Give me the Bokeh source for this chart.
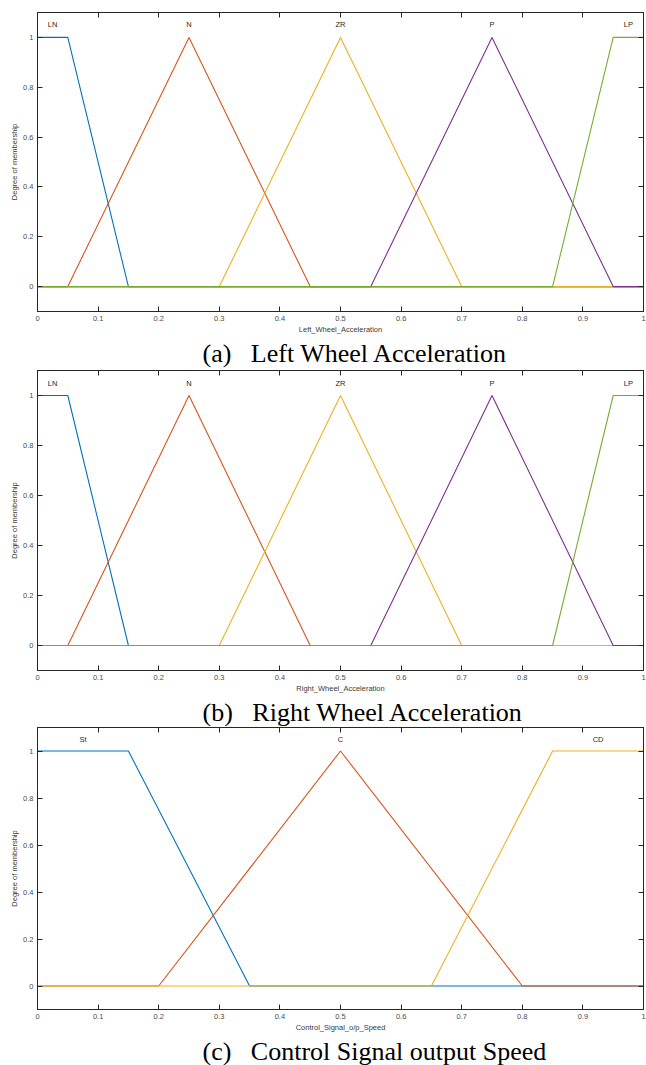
from bokeh.plotting import figure
from bokeh.layouts import column
from bokeh.models import Range1d, LinearAxis, FixedTicker, CustomJSTickFormatter, Title, ColumnDataSource
from bokeh.core.properties import value
from bokeh.embed import file_html
from bokeh.resources import INLINE

# ---------------- data ----------------
wheel_mf_names = ["LN", "N", "ZR", "P", "LP"]
wheel_mf_x = [
    [0, 0.05, 0.15, 1],
    [0, 0.05, 0.25, 0.45, 1],
    [0, 0.30, 0.50, 0.70, 1],
    [0, 0.55, 0.75, 0.95, 1],
    [0, 0.85, 0.95, 1],
]
wheel_mf_y = [
    [1, 1, 0, 0],
    [0, 0, 1, 0, 0],
    [0, 0, 1, 0, 0],
    [0, 0, 1, 0, 0],
    [0, 0, 1, 1],
]
wheel_label_x = [0.025, 0.25, 0.5, 0.75, 0.975]

speed_mf_names = ["St", "C", "CD"]
speed_mf_x = [
    [0, 0.15, 0.35, 1],
    [0, 0.20, 0.50, 0.80, 1],
    [0, 0.65, 0.85, 1],
]
speed_mf_y = [
    [1, 1, 0, 0],
    [0, 0, 1, 0, 0],
    [0, 0, 1, 1],
]
speed_label_x = [0.075, 0.5, 0.925]

x_ticks = [0, 0.1, 0.2, 0.3, 0.4, 0.5, 0.6, 0.7, 0.8, 0.9, 1]
y_ticks = [0, 0.2, 0.4, 0.6, 0.8, 1]
label_y = 1.05
y_label = "Degree of membership"

# ---------------- style ----------------
COLORS = ["#0072BD", "#D95319", "#EDB120", "#7E2F8E", "#77AC30"]
SANS = "Liberation Sans"
SERIF = "Liberation Serif"
AX_COL = "#262626"
TICK_COL = "#4a4a4a"
FS = "7.5px"
W = 646


def fmt():
    return CustomJSTickFormatter(code="return String(Number(tick.toFixed(2)));")


def blank():
    return CustomJSTickFormatter(code="return '';")


def panel(names, xs, ys, lab_x, xlabel, caption, height, btop, bbot):
    p = figure(width=W, height=height, output_backend="svg", toolbar_location=None,
               x_range=Range1d(0, 1), y_range=Range1d(-0.1, 1.1),
               min_border_left=37, min_border_right=3,
               min_border_top=btop, min_border_bottom=bbot)
    p.grid.visible = False
    p.outline_line_color = AX_COL
    p.outline_line_width = 1
    p.background_fill_color = "white"
    p.border_fill_color = "white"

    for i, (xx, yy) in enumerate(zip(xs, ys)):
        p.line(xx, yy, line_color=COLORS[i], line_width=1.1)

    src = ColumnDataSource(dict(x=lab_x, y=[label_y] * len(lab_x), t=names))
    p.text("x", "y", text="t", source=src, text_align="center", text_baseline="middle",
           text_font=value(SANS), text_font_size=FS, text_color=AX_COL)

    for ax, tk in ((p.xaxis[0], x_ticks), (p.yaxis[0], y_ticks)):
        ax.ticker = FixedTicker(ticks=tk)
        ax.formatter = fmt()
        ax.major_tick_in = 5
        ax.major_tick_out = 0
        ax.minor_tick_in = 0
        ax.minor_tick_out = 0
        ax.axis_line_color = AX_COL
        ax.major_tick_line_color = AX_COL
        ax.major_label_text_font = SANS
        ax.major_label_text_font_size = FS
        ax.major_label_text_color = TICK_COL
        ax.axis_label_text_font = SANS
        ax.axis_label_text_font_size = FS
        ax.axis_label_text_font_style = "normal"
        ax.axis_label_text_color = "#3a3a3a"
    p.xaxis[0].major_label_standoff = 4
    p.xaxis[0].axis_label_standoff = 1
    p.xaxis[0].axis_label = xlabel
    p.yaxis[0].major_label_standoff = 4
    p.yaxis[0].axis_label_standoff = 1
    p.yaxis[0].axis_label = y_label

    for loc, tk in (("above", x_ticks), ("right", y_ticks)):
        ax = LinearAxis(ticker=FixedTicker(ticks=tk), formatter=blank(),
                        major_label_text_font_size="0px", major_label_standoff=0,
                        major_tick_in=5, major_tick_out=0, minor_tick_in=0, minor_tick_out=0,
                        axis_line_color=AX_COL, major_tick_line_color=AX_COL)
        p.add_layout(ax, loc)

    t = Title(text=caption, align="left", offset=165, standoff=0,
              text_font=SERIF, text_font_size="26px", text_font_style="normal",
              text_color="black")
    p.add_layout(t, "below")
    return p


NB = "\u00a0"
p1 = panel(wheel_mf_names, wheel_mf_x, wheel_mf_y, wheel_label_x, "Left_Wheel_Acceleration",
           "(a)" + NB * 3 + "Left Wheel Acceleration", 368, 12, 57)
p2 = panel(wheel_mf_names, wheel_mf_x, wheel_mf_y, wheel_label_x, "Right_Wheel_Acceleration",
           "(b)" + NB * 3 + "Right Wheel Acceleration", 358, 2, 55)
p3 = panel(speed_mf_names, speed_mf_x, speed_mf_y, speed_label_x, "Control_Signal_o/p_Speed",
           "(c)" + NB * 3 + "Control Signal output Speed", 339, 1, 56)

layout = column(p1, p2, p3, spacing=0)
open("out.html", "w").write(file_html(layout, INLINE))
